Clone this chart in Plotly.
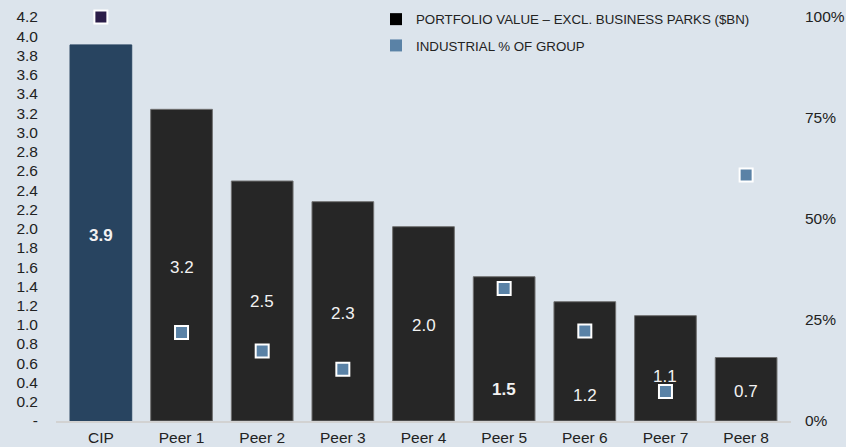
import plotly.graph_objects as go

categories = ["CIP", "Peer 1", "Peer 2", "Peer 3", "Peer 4", "Peer 5", "Peer 6", "Peer 7", "Peer 8"]
portfolio_value = [3.91, 3.24, 2.495, 2.28, 2.02, 1.50, 1.24, 1.095, 0.66]
value_labels = ["3.9", "3.2", "2.5", "2.3", "2.0", "1.5", "1.2", "1.1", "0.7"]
label_height = [1.93, 1.60, 1.24, 1.12, 0.99, 0.33, 0.26, 0.46, 0.31]
label_bold = [True, False, False, False, False, True, False, False, False]
industrial_pct = [1.00, 0.219, 0.173, 0.128, None, 0.328, 0.223, 0.073, 0.609]

left_ticks = [round(i * 0.2, 1) for i in range(22)]
left_ticktext = ["-"] + [f"{v:.1f}" for v in left_ticks[1:]]
right_ticks = [0, 0.25, 0.5, 0.75, 1.0]
right_ticktext = ["0%", "25%", "50%", "75%", "100%"]

BG = "#dce4ec"
FONT = "Arial, Liberation Sans, Helvetica, sans-serif"
bar_colors = ["#284460"] + ["#262626"] * 8
bar_lines = ["#284460"] + ["#707070"] * 8
marker_colors = ["#2b1d48"] + ["#5a82a6"] * 8

fig = go.Figure()
fig.add_trace(go.Bar(
    x=categories, y=portfolio_value,
    marker=dict(color=bar_colors, line=dict(color=bar_lines, width=1)),
    showlegend=False, hoverinfo="skip",
))
fig.add_trace(go.Scatter(
    x=categories, y=industrial_pct, yaxis="y2", mode="markers",
    marker=dict(symbol="square", size=13, color=marker_colors,
                line=dict(color="white", width=2)),
    showlegend=False, hoverinfo="skip", cliponaxis=False,
))
# legend entries
fig.add_trace(go.Scatter(
    x=[None], y=[None], mode="markers", name="PORTFOLIO VALUE – EXCL. BUSINESS PARKS ($BN)",
    marker=dict(symbol="square", size=11, color="#000000"), legendgroup="a",
))
fig.add_trace(go.Scatter(
    x=[None], y=[None], mode="markers", name="INDUSTRIAL % OF GROUP", yaxis="y2",
    marker=dict(symbol="square", size=11, color="#5a82a6"), legendgroup="b",
))

for c, lab, h, b in zip(categories, value_labels, label_height, label_bold):
    fig.add_annotation(
        x=c, y=h, text=f"<b>{lab}</b>" if b else lab, showarrow=False,
        font=dict(family=FONT, size=17, color="#f2f2f2"),
        xanchor="center", yanchor="middle",
    )

fig.update_layout(
    width=846, height=447,
    margin=dict(l=56, r=55, t=17, b=26, autoexpand=False),
    paper_bgcolor=BG, plot_bgcolor=BG,
    font=dict(family=FONT, size=16, color="#222222"),
    bargap=0.235,
    xaxis=dict(
        type="category", showgrid=False, zeroline=False, automargin=False,
        showline=True, linecolor="#d2d2d2", linewidth=2,
        ticks="", tickfont=dict(size=15.5), ticklabelstandoff=1,
    ),
    yaxis=dict(
        range=[0, 4.2], tickvals=left_ticks, ticktext=left_ticktext, automargin=False,
        showgrid=False, zeroline=False, showline=False, ticks="",
        tickfont=dict(size=15.5), ticklabelstandoff=17,
    ),
    yaxis2=dict(
        range=[0, 1], overlaying="y", side="right", automargin=False,
        tickvals=right_ticks, ticktext=right_ticktext,
        showgrid=False, zeroline=False, showline=False, ticks="",
        tickfont=dict(size=15.5), ticklabelstandoff=13,
    ),
    legend=dict(
        x=(376 - 56) / 735, y=1.0 + 13 / 404, xanchor="left", yanchor="top",
        bgcolor="rgba(0,0,0,0)", font=dict(size=13.3, color="#222222"),
        traceorder="grouped", tracegroupgap=6, itemsizing="constant",
    ),
)

fig.write_html(
    "out.html",
    config={"displayModeBar": False},
    post_script="document.body.style.margin='0';document.body.style.background='%s';" % BG,
)
